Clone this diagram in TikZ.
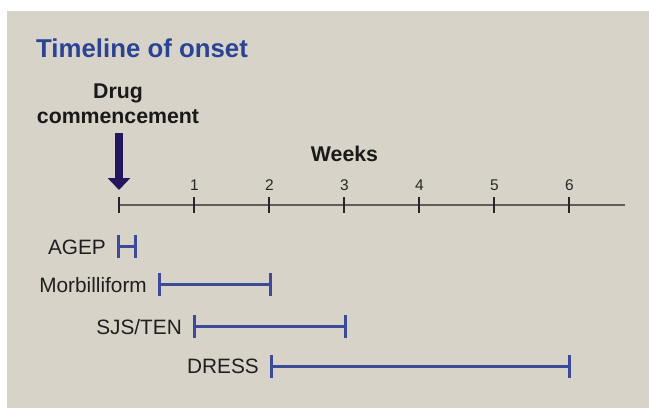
\documentclass[tikz,border=0pt]{standalone}
\usepackage{fontspec}
\setmainfont{Liberation Sans}
\usetikzlibrary{arrows.meta}
\definecolor{panel}{HTML}{D7D3C9}
\definecolor{titleblue}{HTML}{2B4394}
\definecolor{arrowind}{HTML}{24155F}
\definecolor{barblue}{HTML}{3D4A98}
\definecolor{axisgray}{HTML}{5E5E5E}
\tikzset{
  titlestyle/.style={inner sep=0pt, anchor=base west, text=titleblue, font=\fontsize{25.8}{30}\selectfont\bfseries},
  headstyle/.style={inner sep=0pt, text=black!90, font=\fontsize{21.3}{24.5}\selectfont\bfseries},
  ticklab/.style={inner sep=0pt, anchor=base, text=black!85, font=\fontsize{15.5}{17}\selectfont},
  rowlab/.style={inner sep=0pt, anchor=base east, text=black!88, font=\fontsize{20.8}{23}\selectfont},
  axisline/.style={draw=axisgray, line width=2pt},
  tickline/.style={draw=black!85, line width=1.2pt},
  barline/.style={draw=barblue, line width=3pt},
  capline/.style={draw=barblue, line width=3pt},
  bigarrow/.style={draw=arrowind, line width=8pt, -{Triangle[width=22pt,length=12pt]}}
}
\begin{document}
\begin{tikzpicture}[x=1pt,y=-1pt]
\useasboundingbox (0,0) rectangle (649,408);
\fill[white] (0,0) rectangle (649,408);
\fill[panel] (7,11) rectangle (649,408);

\node[titlestyle] (title) at (36,57) {Timeline of onset};
\node[headstyle, anchor=north, align=center] (drug) at (118,84) {Drug\\commencement};
\node[headstyle, anchor=base] (weeks) at (344.5,161) {Weeks};

% axis
\coordinate (a0) at (119,204.5);
\coordinate (aend) at (625,204.5);
\draw[axisline] (a0) -- (aend);
\foreach \i in {0,...,6}{
  \coordinate (tk\i) at ({119+75*\i},204.5);
  \draw[tickline] ([yshift=-8pt]tk\i) -- ([yshift=8pt]tk\i);
}
\foreach \i in {1,...,6}{
  \node[ticklab] (tl\i) at ({119.5+75*\i},190) {\i};
}

% arrow
\coordinate (arrtop) at (119,133);
\coordinate (arrtip) at (119,190);
\draw[bigarrow] (arrtop) -- (arrtip);

% rows
\foreach \nm/\xs/\xe/\yy in {agep/118.5/135.5/246.5, morb/159/270/284, sjs/194/345/326.5, dress/271/569.5/366}{
  \coordinate (\nm S) at (\xs,\yy);
  \coordinate (\nm E) at (\xe,\yy);
  \draw[barline] (\nm S) -- (\nm E);
  \draw[capline] ([yshift=-11.5pt]\nm S) -- ([yshift=11.5pt]\nm S);
  \draw[capline] ([yshift=-11.5pt]\nm E) -- ([yshift=11.5pt]\nm E);
}
\node[rowlab] (agep) at (106,254) {AGEP};
\node[rowlab] (morb) at (147,292.5) {Morbilliform};
\node[rowlab] (sjs) at (182,334) {SJS/TEN};
\node[rowlab] (dress) at (259,373.5) {DRESS};
\end{tikzpicture}
\end{document}
